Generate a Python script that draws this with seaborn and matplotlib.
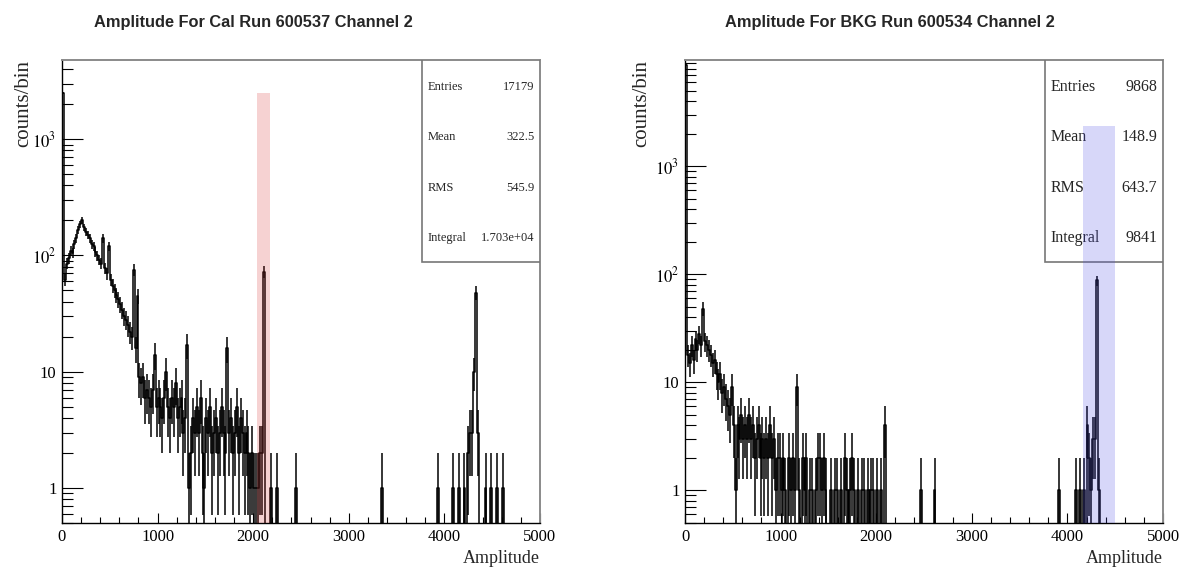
import numpy as np
import pandas as pd
import matplotlib
matplotlib.use("Agg")
import matplotlib.pyplot as plt
import seaborn as sns
from matplotlib.patches import Rectangle
from matplotlib.ticker import MultipleLocator, LogLocator, FuncFormatter, NullFormatter

# histogram binning: 250 bins of 20 ADC counts from 0 to 5000
bin_width = 20
n_bins = 250

# Cal run 600537: one count per bin for amplitudes 0..2100, then the sparse tail
cal_counts_low = [2500, 62, 85, 95, 110, 105, 125, 140, 165, 185,
                  200, 175, 160, 150, 140, 125, 120, 108, 100, 92,
                  85, 140, 78, 70, 120, 62, 55, 50, 46, 42,
                  38, 34, 30, 28, 25, 22, 20, 75, 16, 45,
                  9, 8, 9, 6, 7, 6, 5, 7, 14, 5,
                  6, 5, 4, 6, 10, 5, 4, 6, 5, 8,
                  4, 5, 6, 3, 4, 17, 1, 2, 4, 3,
                  5, 3, 6, 2, 1, 4, 3, 5, 2, 3,
                  4, 2, 3, 5, 3, 2, 16, 3, 4, 2,
                  3, 5, 2, 4, 3, 2, 3, 2, 1, 2,
                  1, 1, 1, 2, 2, 72]
cal_tail_amp = [2180, 2240, 2440, 3340, 3920, 4080, 4140, 4200, 4240, 4260,
                4280, 4300, 4320, 4340, 4420, 4480, 4540, 4600]
cal_tail_counts = [1, 1, 1, 1, 1, 1, 1, 1, 2, 3, 3, 10, 48, 3, 1, 1, 1, 1]
cal_stats_names = ["Entries", "Mean", "RMS", "Integral"]
cal_stats_values = ["17179", "322.5", "545.9", "1.703e+04"]
cal_title = "Amplitude For Cal Run 600537 Channel 2"

# BKG run 600534
bkg_counts_low = [8700, 18, 15, 22, 16, 25, 20, 28, 22, 48,
                  24, 22, 20, 18, 15, 16, 12, 10, 12, 8,
                  9, 7, 6, 5, 9, 4, 1, 4, 3, 5,
                  3, 4, 3, 5, 3, 4, 2, 3, 4, 2,
                  3, 2, 3, 2, 4, 2, 3, 1, 2, 2,
                  1, 2, 1, 0, 2, 1, 2, 1, 9, 1,
                  0, 2, 1, 2, 0, 1, 1, 0, 1, 2,
                  2, 1, 2, 1, 0, 0, 1, 0, 1, 1,
                  0, 1, 0, 2, 1, 0, 1, 2, 1, 0,
                  1, 0, 1, 1, 0, 1, 0, 1, 1, 0,
                  1, 0, 1, 0, 4, 0]
bkg_tail_amp = [2460, 2600, 3900, 4080, 4120, 4160, 4200, 4220, 4240, 4260, 4280, 4300, 4320]
bkg_tail_counts = [1, 1, 1, 1, 1, 1, 4, 2, 1, 3, 3, 88, 1]
bkg_stats_names = ["Entries", "Mean", "RMS", "Integral"]
bkg_stats_values = ["9868", "148.9", "643.7", "9841"]
bkg_title = "Amplitude For BKG Run 600534 Channel 2"


def full_hist(low, tail_amp, tail_counts):
    counts = np.zeros(n_bins)
    counts[:len(low)] = low
    for a, c in zip(tail_amp, tail_counts):
        counts[a // bin_width] = c
    return counts


sns.set_style("white")
plt.rcParams["font.family"] = ["Liberation Serif", "DejaVu Serif"]
plt.rcParams["mathtext.fontset"] = "stix"

W, H = 1183, 569
fig = plt.figure(figsize=(W / 100, H / 100), dpi=100)

edges = np.arange(0, 5000 + bin_width, bin_width)
centers = edges[:-1] + bin_width / 2


def ylab(v, pos):
    if v == 1:
        return "1"
    if v == 10:
        return "10"
    return r"$10^{%d}$" % round(np.log10(v))


panels = [
    dict(x0=62, counts=full_hist(cal_counts_low, cal_tail_amp, cal_tail_counts),
         ylim=(0.5, 4800), band=(2040, 2180), band_top=2500, band_color=(0.85, 0.2, 0.2),
         names=cal_stats_names, values=cal_stats_values, stat_fs=9,
         title=cal_title, tx=253, ylx=-0.08),
    dict(x0=685, counts=full_hist(bkg_counts_low, bkg_tail_amp, bkg_tail_counts),
         ylim=(0.5, 9600), band=(4160, 4500), band_top=2350, band_color=(0.3, 0.3, 0.9),
         names=bkg_stats_names, values=bkg_stats_values, stat_fs=11.5,
         title=bkg_title, tx=890, ylx=-0.09),
]

for p in panels:
    ax = fig.add_axes([p["x0"] / W, (H - 523) / H, 478 / W, 463 / H])
    counts = p["counts"]
    df = pd.DataFrame({"amp": centers, "n": counts})
    sns.histplot(data=df, x="amp", weights="n", binwidth=bin_width, binrange=(0, 5000),
                 element="step", fill=False, color="black", linewidth=1.1, ax=ax)
    nz = counts > 0
    ax.errorbar(centers[nz], counts[nz], yerr=np.sqrt(counts[nz]), fmt="none",
                ecolor="black", elinewidth=1.1)
    ax.set_yscale("log")
    ax.set_xlim(0, 5000)
    ax.set_ylim(*p["ylim"])
    ax.set_xlabel("")
    ax.set_ylabel("")

    # shaded selection window
    ax.fill_between([p["band"][0], p["band"][1]], p["ylim"][0], p["band_top"],
                    color=p["band_color"], alpha=0.22, linewidth=0, zorder=10)

    ax.xaxis.set_major_locator(MultipleLocator(1000))
    ax.xaxis.set_minor_locator(MultipleLocator(200))
    ax.yaxis.set_major_locator(LogLocator(base=10))
    ax.yaxis.set_minor_locator(LogLocator(base=10, subs=range(2, 10)))
    ax.yaxis.set_major_formatter(FuncFormatter(ylab))
    ax.yaxis.set_minor_formatter(NullFormatter())
    ax.tick_params(axis="both", which="both", direction="in", top=False, right=False,
                   bottom=True, left=True, colors="black", labelsize=12)
    ax.tick_params(axis="x", which="major", length=7, width=0.8, pad=4)
    ax.tick_params(axis="x", which="minor", length=4, width=0.8)
    ax.tick_params(axis="y", which="major", length=15, width=0.8, pad=4)
    ax.tick_params(axis="y", which="minor", length=8, width=0.8)
    for s in ["left", "bottom"]:
        ax.spines[s].set_color("black")
        ax.spines[s].set_linewidth(1.0)
    for s in ["top", "right"]:
        ax.spines[s].set_color("#8a8a8a")
        ax.spines[s].set_linewidth(1.4)

    # stat box
    ax.add_patch(Rectangle((0.753, 0.564), 0.247, 0.436, transform=ax.transAxes,
                           facecolor="white", edgecolor="#777777", linewidth=1.2, zorder=8))
    for i, (n, v) in enumerate(zip(p["names"], p["values"])):
        yy = 0.942 - i * 0.109
        ax.text(0.765, yy, n, transform=ax.transAxes, fontsize=p["stat_fs"],
                ha="left", va="center", zorder=9)
        ax.text(0.988, yy, v, transform=ax.transAxes, fontsize=p["stat_fs"],
                ha="right", va="center", zorder=9)

    ax.text(p["ylx"], 1.0, "counts/bin", transform=ax.transAxes, rotation=90,
            ha="center", va="top", fontsize=15)
    ax.text(1.0, -0.076, "Amplitude", transform=ax.transAxes, ha="right",
            va="center", fontsize=13)
    fig.text(p["tx"] / W, 1 - 22 / H, p["title"], ha="center", va="center",
             fontsize=11.8, fontweight="bold", family=["Liberation Sans", "DejaVu Sans"])

fig.savefig("out.png", dpi=100, facecolor="white")
